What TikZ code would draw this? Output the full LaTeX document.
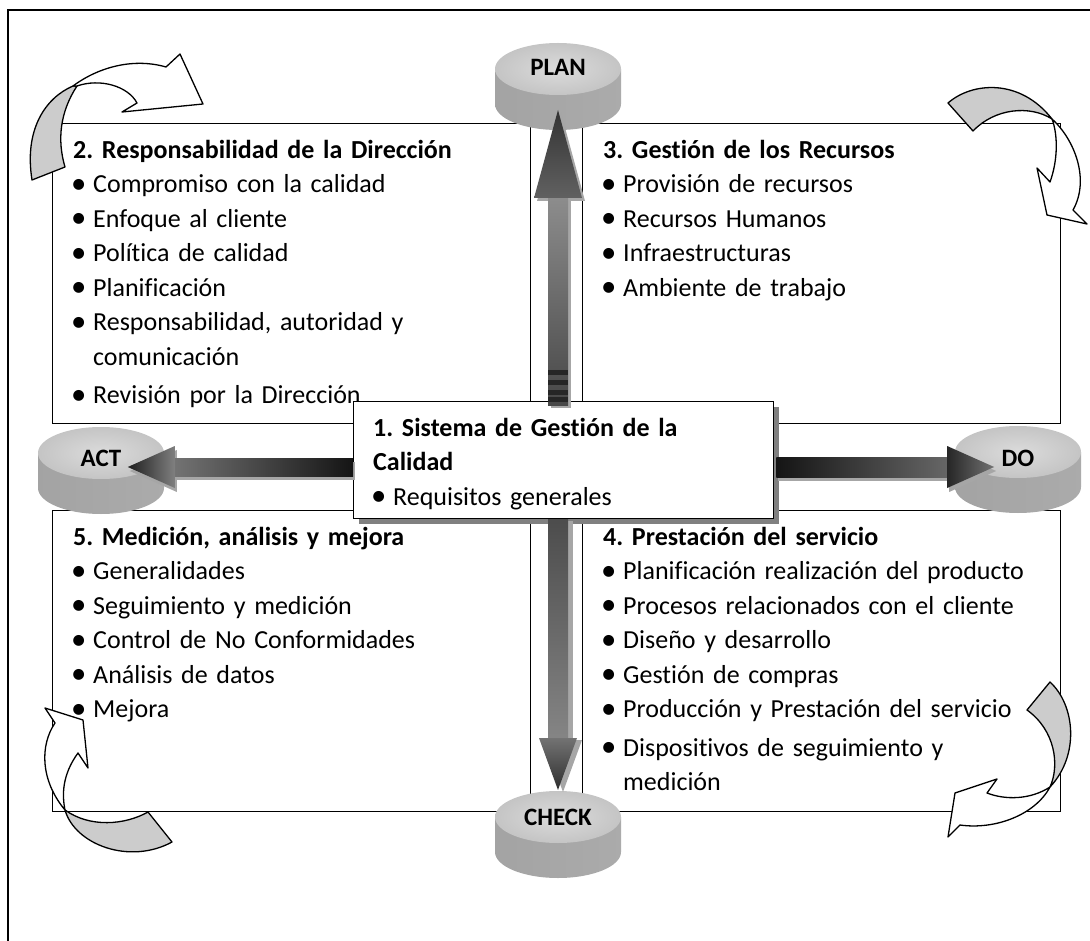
\documentclass[tikz,border=0pt]{standalone}
\usepackage{fontspec}
\setmainfont{Carlito}[Ligatures=NoCommon]
\usetikzlibrary{calc,shadows}
\frenchspacing

% list item with a bullet, and a continuation line indented like the item text
\newcommand\itm[1]{\makebox[20pt][l]{\hspace{-2pt}\raisebox{-0.3pt}{\scalebox{1.18}{\textbullet}}}#1}
\newcommand\cont[1]{\hspace*{20pt}#1}

% block arrow: #1 base, #2 tip, #3 shaft half width, #4 head half width,
% #5 head length, #6 shaft style, #7 head style
\newcommand\blockarrow[7]{%
  \coordinate (ba-b) at (#1);
  \coordinate (ba-t) at (#2);
  \coordinate (ba-h) at ($(ba-t)!#5!(ba-b)$);
  \path[#6] ($(ba-b)!#3!90:(ba-t)$) -- ($(ba-h)!#3!90:(ba-t)$)
     -- ($(ba-h)!#3!-90:(ba-t)$) -- ($(ba-b)!#3!-90:(ba-t)$) -- cycle;
  \path[#7] ($(ba-h)!#4!90:(ba-t)$) -- (ba-t) -- ($(ba-h)!#4!-90:(ba-t)$) -- cycle;
}

% grey drum: #1 name, #2 centre x, #3 centre y of the top face,
% #4 label shift, #5 label
\newcommand\drum[5]{%
  \shade[left color=black!36, middle color=black!22, right color=black!33]
    (#2-63,#3) -- (#2-63,#3+35)
    arc[start angle=180, end angle=360, x radius=63pt, y radius=26pt]
    -- (#2+63,#3) -- cycle;
  \shade[inner color=black!14, outer color=black!23]
    (#2,#3) ellipse [x radius=63pt, y radius=26pt];
  \node[drumlabel] (#1) at (#2,#3+#4) {#5};
}

\begin{document}
\begin{tikzpicture}[x=1pt,y=-1pt,
  box/.style={draw, line width=1.4pt, fill=white, inner sep=0pt, anchor=north west},
  txt/.style={anchor=north west, inner sep=0pt, text width=450pt, align=left,
              font=\fontsize{26}{34.5}\selectfont},
  drumlabel/.style={font=\bfseries\fontsize{25}{25}\selectfont},
  curlback/.style={draw, line width=1.3pt, line join=round, fill=black!20},
  curlfront/.style={draw, line width=1.3pt, line join=round, fill=white},
  arrowshadow/.style={fill=black!35},
]
\useasboundingbox (0,0) rectangle (1090,941);

% page frame
\draw[line width=1.4pt] (8,941) -- (8,10) -- (1090,10);

% quadrant boxes
\node[box, minimum width=478pt, minimum height=300pt] (b2) at (52,123) {};
\node[txt] (t2) at ($(b2.north west)+(21,11)$) {\strut\textbf{2. Responsabilidad de la Dirección}\\
  \itm{Compromiso con la calidad}\\
  \itm{Enfoque al cliente}\\
  \itm{Política de calidad}\\
  \itm{Planificación}\\
  \itm{Responsabilidad, autoridad y}\\
  \cont{comunicación}\\[4pt]
  \itm{Revisión por la Dirección}};

\node[box, minimum width=478pt, minimum height=300pt] (b3) at (582,123) {};
\node[txt] (t3) at ($(b3.north west)+(21,11)$) {\strut\textbf{3. Gestión de los Recursos}\\
  \itm{Provisión de recursos}\\
  \itm{Recursos Humanos}\\
  \itm{Infraestructuras}\\
  \itm{Ambiente de trabajo}};

\node[box, minimum width=478pt, minimum height=301pt] (b5) at (52,510) {};
\node[txt] (t5) at ($(b5.north west)+(21,11)$) {\strut\textbf{5. Medición, análisis y mejora}\\
  \itm{Generalidades}\\
  \itm{Seguimiento y medición}\\
  \itm{Control de No Conformidades}\\
  \itm{Análisis de datos}\\
  \itm{Mejora}};

\node[box, minimum width=478pt, minimum height=301pt] (b4) at (582,510) {};
\node[txt] (t4) at ($(b4.north west)+(21,11)$) {\strut\textbf{4. Prestación del servicio}\\
  \itm{Planificación realización del producto}\\
  \itm{Procesos relacionados con el cliente}\\
  \itm{Diseño y desarrollo}\\
  \itm{Gestión de compras}\\
  \itm{Producción y Prestación del servicio}\\[4pt]
  \itm{Dispositivos de seguimiento y}\\
  \cont{medición}};

% central box with its shadow
\node[box, minimum width=420pt, minimum height=117pt,
      drop shadow={shadow xshift=5pt, shadow yshift=-5pt, opacity=1, fill=black!50}]
      (sgc) at (353,401) {};
\node[txt, text width=390pt] (t1) at ($(sgc.north west)+(20,11)$) {\strut\textbf{1. Sistema de Gestión de la}\\
  \textbf{Calidad}\\
  \itm{Requisitos generales}};

% PDCA drums
\drum{plan}{558}{69}{-2}{PLAN}
\drum{act}{101}{453}{5}{ACT}
\drum{do}{1018}{452}{6}{DO}
\drum{check}{558}{817}{0}{CHECK}

% arrow ends
\coordinate (hz) at (0,467);
\coordinate (planTip)  at ($(plan)+(0,43)$);
\coordinate (checkTip) at ($(check)+(0,-27)$);
\coordinate (actTip)   at ($(act.east |- hz)+(3,0)$);
\coordinate (doTip)    at ($(do.west |- hz)+(-4,0)$);
\coordinate (planBase)  at ($(sgc.north -| plan)+(0,4)$);
\coordinate (checkBase) at (sgc.south -| check);
\coordinate (actBase)   at (sgc.west |- hz);
\coordinate (doBase)    at ($(sgc.east |- hz)+(2,0)$);

% arrow shadows
\blockarrow{$(planBase)+(3,3)$}{$(planTip)+(3,3)$}{10pt}{24pt}{88pt}{arrowshadow}{arrowshadow}
\blockarrow{$(checkBase)+(5,2)$}{$(checkTip)+(5,2)$}{10pt}{19pt}{52pt}{arrowshadow}{arrowshadow}
\blockarrow{$(actBase)+(2,4)$}{$(actTip)+(2,4)$}{9pt}{21pt}{47pt}{arrowshadow}{arrowshadow}
\blockarrow{$(doBase)+(2,4)$}{$(doTip)+(2,4)$}{10pt}{21pt}{47pt}{arrowshadow}{arrowshadow}

% arrows
\blockarrow{planBase}{planTip}{10pt}{24pt}{88pt}
  {shade, top color=black!45, middle color=black!28, bottom color=black!72}
  {shade, top color=black!80, bottom color=black!62}
\foreach \yy in {370,380,390,397}
  \fill[black!85] ($(planBase)+(-10,\yy-405)$) rectangle ($(planBase)+(10,\yy-405+5)$);
\blockarrow{checkBase}{checkTip}{10pt}{19pt}{52pt}
  {shade, top color=black!70, middle color=black!28, bottom color=black!48}
  {shade, top color=black!55, bottom color=black!82}
\blockarrow{actBase}{actTip}{9pt}{21pt}{47pt}
  {shade, left color=black!55, middle color=black!25, right color=black!92}
  {shade, left color=black!88, right color=black!50}
\blockarrow{doBase}{doTip}{10pt}{21pt}{47pt}
  {shade, left color=black!92, middle color=black!28, right color=black!60}
  {shade, left color=black!85, right color=black!55}

% curled arrows at the corners
% top left
\path[curlback] (32,180) .. controls (24,130) and (45,98) .. (73,86)
  -- (77,86) .. controls (60,112) and (57,140) .. (65,167) -- cycle;
\path[curlfront] (73,86) .. controls (100,66) and (135,58) .. (166,67)
  -- (180,54) -- (203,104) -- (122,112) -- (137,103)
  .. controls (128,86) and (100,78) .. (77,86) -- cycle;
% top right
\path[curlback] (948,103) .. controls (972,82) and (1020,78) .. (1052,119)
  .. controls (1030,105) and (995,108) .. (973,131) -- cycle;
\path[curlfront] (1052,119) .. controls (1075,140) and (1090,180) .. (1073,210)
  -- (1087,224) -- (1047,215) -- (1037,168) -- (1050,182)
  .. controls (1058,160) and (1058,135) .. (1052,119) -- cycle;
% bottom right
\path[curlback] (1050,682) .. controls (1075,705) and (1080,755) .. (1050,787)
  .. controls (1060,765) and (1055,730) .. (1027,710) -- cycle;
\path[curlfront] (1050,787) .. controls (1035,815) and (995,830) .. (960,825)
  -- (948,837) -- (955,793) -- (997,779) -- (987,793)
  .. controls (1005,800) and (1030,800) .. (1050,787) -- cycle;
% bottom left
\path[curlback] (65,810) .. controls (75,845) and (130,865) .. (172,842)
  -- (148,812) .. controls (125,825) and (90,828) .. (65,810) -- cycle;
\path[curlfront] (65,810) .. controls (40,780) and (40,745) .. (55,723)
  -- (45,708) -- (83,720) -- (88,768) -- (78,753)
  .. controls (62,775) and (62,795) .. (65,810) -- cycle;
\end{tikzpicture}
\end{document}
